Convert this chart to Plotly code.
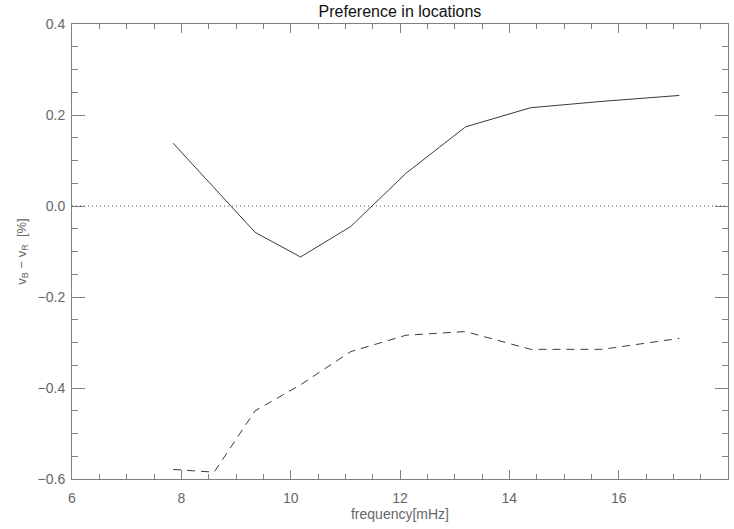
import plotly.graph_objects as go

freq = [7.85, 8.6, 9.35, 10.18, 11.1, 12.11, 13.2, 14.39, 15.7, 17.11]
solid_vals = [0.138, 0.04, -0.058, -0.112, -0.045, 0.072, 0.174, 0.216, 0.23, 0.243]
dashed_vals = [-0.579, -0.585, -0.45, -0.393, -0.32, -0.284, -0.276, -0.315, -0.315, -0.291]

x_ticks = [6, 8, 10, 12, 14, 16, 18]
y_ticks = [-0.6, -0.4, -0.2, 0.0, 0.2, 0.4]
y_labels = ["\u22120.6", "\u22120.4", "\u22120.2", "0.0", "0.2", "0.4"]

line_col = "#3a3a3a"
axis_col = "#808080"
label_col = "#666666"
font_fam = "Liberation Sans, Arial, sans-serif"

fig = go.Figure()
fig.add_trace(go.Scatter(x=freq, y=solid_vals, mode="lines",
                         line=dict(color=line_col, width=1), showlegend=False))
fig.add_trace(go.Scatter(x=freq, y=dashed_vals, mode="lines",
                         line=dict(color=line_col, width=1, dash="8px,6px"), showlegend=False))

fig.add_shape(type="line", xref="paper", x0=0, x1=1, yref="y", y0=0, y1=0,
              line=dict(color="#555555", width=1, dash="1px,3px"))

fig.update_layout(
    width=734, height=529,
    margin=dict(l=72, r=6, t=24, b=50),
    paper_bgcolor="white", plot_bgcolor="white",
    font=dict(family=font_fam, color=label_col, size=14),
    title=dict(text="Preference in locations", x=400 / 734, xanchor="center",
               y=1 - 11 / 529, yanchor="middle",
               font=dict(family=font_fam, size=16, color="#111111")),
    xaxis=dict(range=[6, 18], tickvals=x_ticks, ticktext=[str(v) for v in x_ticks],
               ticks="inside", ticklen=9, tickwidth=1, tickcolor=axis_col,
               minor=dict(dtick=0.5, ticks="inside", ticklen=5, tickcolor=axis_col, tickwidth=1),
               showline=True, linecolor=axis_col, linewidth=1, mirror="allticks",
               showgrid=False, zeroline=False, ticklabelstandoff=6,
               title=dict(text="frequency[mHz]", standoff=4,
                          font=dict(family=font_fam, size=14, color=label_col))),
    yaxis=dict(range=[-0.6, 0.4], tickvals=y_ticks, ticktext=y_labels,
               ticks="inside", ticklen=13, tickwidth=1, tickcolor=axis_col,
               minor=dict(dtick=0.05, ticks="inside", ticklen=6, tickcolor=axis_col, tickwidth=1),
               showline=True, linecolor=axis_col, linewidth=1, mirror="allticks",
               showgrid=False, zeroline=False, ticklabelstandoff=3,
               title=dict(text="v<sub>B</sub> \u2212 v<sub>R</sub>  [%]", standoff=8,
                          font=dict(family=font_fam, size=13, color=label_col))),
)

fig.write_html("out.html", config={"displayModeBar": False},
               post_script="document.body.style.margin='0';document.body.style.padding='0';")
